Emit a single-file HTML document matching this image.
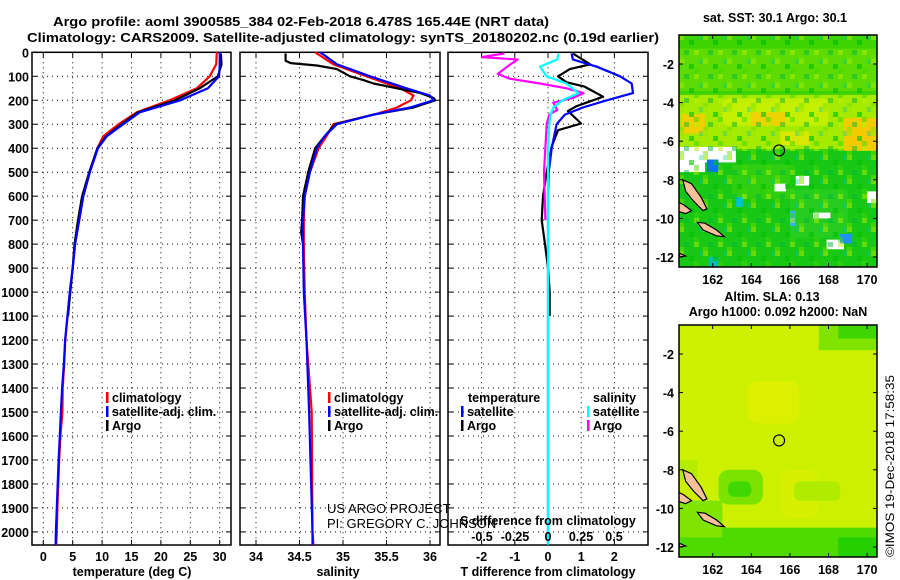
<!DOCTYPE html>
<html><head><meta charset="utf-8"><style>
html,body{margin:0;padding:0;background:#fff}
svg{display:block}
text{font-family:"Liberation Sans",sans-serif;fill:#000}
.b{font-weight:bold;font-size:12.5px}
</style></head><body>
<svg id="fig" width="900" height="580" viewBox="0 0 900 580">
<defs>
<pattern id="pix" x="679" y="35" width="24" height="24" patternUnits="userSpaceOnUse">
<rect x="0" y="0" width="5" height="5" fill="#9ee800" opacity="0.6"/>
<rect x="10" y="5" width="5" height="5" fill="#00c000" opacity="0.6"/>
<rect x="15" y="15" width="5" height="5" fill="#b8f000" opacity="0.5"/>
<rect x="5" y="15" width="5" height="5" fill="#00b840" opacity="0.5"/>
<rect x="20" y="0" width="4" height="5" fill="#00c8a0" opacity="0.35"/>
<rect x="0" y="20" width="5" height="4" fill="#70e000" opacity="0.5"/>
<rect x="15" y="10" width="5" height="5" fill="#40d800" opacity="0.5"/>
</pattern>
</defs>
<text class="b" x="53" y="26" textLength="496" lengthAdjust="spacingAndGlyphs" font-size="13">Argo profile: aoml 3900585_384 02-Feb-2018 6.478S 165.44E (NRT data)</text>
<text class="b" x="27" y="42" textLength="632" lengthAdjust="spacingAndGlyphs" font-size="13">Climatology: CARS2009. Satellite-adjusted climatology: synTS_20180202.nc (0.19d earlier)</text>
<g id="panels"></g>
<g id="maps"></g>
<text font-size="12" x="0" y="0" transform="translate(894,466) rotate(-90)" text-anchor="middle" textLength="182" lengthAdjust="spacingAndGlyphs">©IMOS 19-Dec-2018 17:58:35</text>
</svg>
<script>
// ---------- data ----------
const tDepth=[0,50,100,150,200,250,300,350,400,500,600,700,800,900,1000,1200,1300,1400,1500,1600,1700,1800,1900,2000,2054];
const tClim=[29.5,29.4,28.3,26.1,21.5,15.9,12.8,10.2,9.2,7.9,6.8,6.1,5.4,5.0,4.5,3.75,3.55,3.3,3.25,2.9,2.7,2.55,2.4,2.3,2.2];
const tSat=[30.0,30.0,29.9,28.0,23.3,16.4,13.6,10.8,9.3,7.9,6.8,6.1,5.4,5.0,4.5,3.7,3.5,3.2,3.0,2.8,2.6,2.45,2.3,2.15,2.1];
const aDepth=[5,50,100,150,200,250,300,350,400,500,600,700,800,900,1000,1100];
const tArgo=[30.2,30.3,29.7,26.6,22.4,16.1,13.3,10.7,9.2,7.8,6.6,5.9,5.3,5.0,4.6,4.2];
const sDepth=[0,50,100,150,180,200,230,260,300,350,400,500,600,700,800,1000,1200,1500,2000,2054];
const sClim=[34.68,34.89,35.27,35.66,35.81,35.78,35.62,35.36,34.89,34.81,34.72,34.62,34.56,34.55,34.55,34.56,34.58,34.64,34.65,34.66];
const sSat=[34.74,34.93,35.31,35.73,36.0,36.04,35.77,35.35,34.93,34.79,34.70,34.62,34.56,34.54,34.54,34.55,34.58,34.61,34.65,34.65];
const saDepth=[5,35,45,55,70,100,115,130,150,170,190,200,230,260,300,350,400,500,600,700,750,800];
const sArgo=[34.34,34.34,34.40,34.70,34.93,35.08,35.23,35.35,35.62,35.89,36.04,36.06,35.81,35.35,34.91,34.79,34.68,34.60,34.54,34.53,34.52,34.54];
const dDepth=[5,30,60,100,130,170,200,230,260,300,400,500,600,800,1000,1500,2054];
const dTSat=[0.71,0.75,1.47,2.17,2.52,2.56,1.77,1.05,0.51,0.26,0.11,0.02,0,0,0,0,0];
const dadDepth=[5,50,70,100,125,143,185,225,245,297,325,393,500,600,700,800,900,1000,1100];
const dTArgo=[0.75,1.27,0.66,0.3,0.56,1.1,1.66,0.85,0.6,1.0,0.3,0.11,-0.04,-0.15,-0.19,-0.09,0,0.05,0.05];
const dSSat=[0.08,0.07,-0.06,-0.01,0.14,0.23,0.11,0.04,0.02,0.01,0,0,0,0,0,0,0];
const dsaDepth=[5,20,30,60,90,110,130,150,170,190,210,240,260,300,500,700];
const dSArgo=[-0.33,-0.5,-0.23,-0.31,-0.38,-0.29,-0.06,0.14,0.27,0.19,0.04,0.07,0.01,-0.01,-0.03,-0.02];
const depthTicks=[0,100,200,300,400,500,600,700,800,900,1000,1100,1200,1300,1400,1500,1600,1700,1800,1900,2000];
const tTicks=[0,5,10,15,20,25,30];
const sTicks=[34,34.5,35,35.5,36];
const sTickLabels=["34","34.5","35","35.5","36"];
const dTTicks=[-2,-1,0,1,2];
const dSTicks=[-0.5,-0.25,0,0.25,0.5];
const dSTickLabels=["-0.5","-0.25","0","0.25","0.5"];
const lonTicks=[162,164,166,168,170];
const latTicks=[-2,-4,-6,-8,-10,-12];
const argoLon=165.44, argoLat=-6.478;

// ---------- scales ----------
const Y=d=>52.3+d*0.2398;
const XT=v=>43.3+v*5.88;
const XS=v=>256+(v-34)*87;
const XD=v=>548+v*33.2;
const XDS=v=>548+v*132;
const NS="http://www.w3.org/2000/svg";
function mk(tag,attrs,parent){const e=document.createElementNS(NS,tag);for(const k in attrs)e.setAttribute(k,attrs[k]);parent.appendChild(e);return e;}
const P=document.getElementById('panels');

function frame(x0,x1,name){
  const r=mk('rect',{x:x0,y:Y(0),width:x1-x0,height:545-Y(0),fill:'none',stroke:'#000','stroke-width':1.5},P);
  
  
  depthTicks.forEach(d=>{
    if(d>0){const g=mk('line',{x1:x0,x2:x1,y1:Y(d),y2:Y(d),stroke:'#000','stroke-width':1,'stroke-dasharray':'1,4'},P);
    
    }
    mk('line',{x1:x0,x2:x0+5,y1:Y(d),y2:Y(d),stroke:'#000'},P);
    mk('line',{x1:x1-5,x2:x1,y1:Y(d),y2:Y(d),stroke:'#000'},P);
  });
}
function vgrid(xs,name){xs.forEach(x=>{
  const g=mk('line',{x1:x,x2:x,y1:Y(0),y2:545,stroke:'#000','stroke-width':1,'stroke-dasharray':'1,4'},P);
  
  
  mk('line',{x1:x,x2:x,y1:Y(0),y2:Y(0)+5,stroke:'#000'},P);
  mk('line',{x1:x,x2:x,y1:540,y2:545,stroke:'#000'},P);
});}
function line(ds,vs,sx,color,name,w){
  const pts=ds.map((d,i)=>sx(vs[i]).toFixed(1)+','+Y(d).toFixed(1)).join(' ');
  const l=mk('polyline',{points:pts,fill:'none',stroke:color,'stroke-width':w||2.2,'stroke-linejoin':'round'},P);
  
  
}
function txt(x,y,s,name,opt){
  const t=mk('text',Object.assign({x:x,y:y,class:'b'},opt||{}),P);t.textContent=s;
  
  
  return t;
}
function legend(x,y,color,label,name){
  mk('rect',{x:x,y:y-10,width:2.5,height:11,fill:color},P);
  txt(x+6,y,label,name);
}

depthTicks.forEach(d=>txt(29,Y(d)+5,String(d),'depth-tick-label',{'text-anchor':'end'}));

// panel 1
frame(32,231,'temperature-panel');
vgrid(tTicks.map(XT),'temperature');
line(tDepth,tClim,XT,'#ff0000','temp-climatology-line');
line(aDepth,tArgo,XT,'#000000','temp-argo-line');
line(tDepth,tSat,XT,'#0000ff','temp-satellite-line');
tTicks.forEach(v=>txt(XT(v),561,String(v),'temperature-tick-label',{'text-anchor':'middle'}));
txt(132,576,'temperature (deg C)','temperature-axis-title',{'text-anchor':'middle'});
legend(106,402,'#ff0000','climatology','temp-legend-climatology');
legend(106,416,'#0000ff','satellite-adj. clim.','temp-legend-satellite');
legend(106,430,'#000000','Argo','temp-legend-argo');

// panel 2
frame(240,440,'salinity-panel');
vgrid(sTicks.map(XS),'salinity');
line(sDepth,sClim,XS,'#ff0000','sal-climatology-line');
line(saDepth,sArgo,XS,'#000000','sal-argo-line');
line(sDepth,sSat,XS,'#0000ff','sal-satellite-line');
sTicks.forEach((v,i)=>txt(XS(v),561,sTickLabels[i],'salinity-tick-label',{'text-anchor':'middle'}));
txt(338,576,'salinity','salinity-axis-title',{'text-anchor':'middle'});
legend(328,402,'#ff0000','climatology','sal-legend-climatology');
legend(328,416,'#0000ff','satellite-adj. clim.','sal-legend-satellite');
legend(328,430,'#000000','Argo','sal-legend-argo');

// panel 3
frame(448,648,'difference-panel');
vgrid(dTTicks.map(XD),'difference');
line(dadDepth,dTArgo,XD,'#000000','dT-argo-line');
line(dDepth,dTSat,XD,'#0000ff','dT-satellite-line');
line(dsaDepth,dSArgo,XDS,'#ff00ff','dS-argo-line');
line(dDepth,dSSat,XDS,'#00ffff','dS-satellite-line');
dTTicks.forEach(v=>txt(XD(v),561,String(v),'dT-tick-label',{'text-anchor':'middle'}));
dSTicks.forEach((v,i)=>txt(XDS(v),541,dSTickLabels[i],'dS-tick-label',{'text-anchor':'middle'}));
txt(548,576,'T difference from climatology','dT-axis-title',{'text-anchor':'middle'});
txt(548,525,'S difference from climatology','dS-axis-title',{'text-anchor':'middle'});
txt(468,402,'temperature','diff-legend-temperature-heading');
txt(593,402,'salinity','diff-legend-salinity-heading');
legend(461,416,'#0000ff','satellite','diff-legend-t-satellite');
legend(461,430,'#000000','Argo','diff-legend-t-argo');
legend(587,416,'#00ffff','satellite','diff-legend-s-satellite');
legend(587,430,'#ff00ff','Argo','diff-legend-s-argo');
txt(327,513,'US ARGO PROJECT','credit-project',{class:'',style:'font-size:13px'});
txt(327,528,'PI: GREGORY C. JOHNSON','credit-pi',{class:'',style:'font-size:13px'});

// ---------- maps ----------
const M=document.getElementById('maps');
const LX=lon=>712.7+(lon-162)*19.3;
function drawMap(top,name,base,patches,titleLines,texture){
  const LY=lat=>top+29+(-2-lat)*19.3;
  const g=mk('g',{},M);
  
  
  const cp='clip-'+name;
  const cl=mk('clipPath',{id:cp},g);mk('rect',{x:679,y:top,width:198,height:232},cl);
  const inner=mk('g',{'clip-path':'url(#'+cp+')'},g);
  mk('rect',{x:679,y:top,width:198,height:232,fill:base},inner);
  patches.forEach(p=>{
    const r=mk('rect',{x:LX(p[0]),y:LY(p[3]),width:LX(p[1])-LX(p[0]),height:LY(p[2])-LY(p[3]),fill:p[4]},inner);
    if(p[5])r.setAttribute('rx',p[5]);
  });
  if(texture)mk('rect',{x:679,y:top,width:198,height:232,fill:'url(#pix)'},inner);
  const isl=[[[160.45,-8.0],[160.9,-8.2],[161.4,-8.9],[161.7,-9.5],[161.5,-9.6],[161.0,-9.1],[160.6,-8.6]],
             [[161.2,-10.2],[161.6,-10.25],[162.2,-10.6],[162.6,-10.95],[162.2,-10.9],[161.5,-10.6]],
             [[160.1,-9.1],[160.5,-9.3],[160.9,-9.6],[160.6,-9.75],[160.1,-9.6]],
             [[160.25,-11.8],[160.6,-11.95],[160.3,-12.0]]];
  isl.forEach(poly=>{
    const q=mk('polygon',{points:poly.map(p=>LX(p[0]).toFixed(1)+','+LY(p[1]).toFixed(1)).join(' '),fill:'#f5c09a',stroke:'#000','stroke-width':1.2},inner);
    
    
  });
  const c=mk('circle',{cx:LX(argoLon),cy:LY(argoLat),r:5.5,fill:'none',stroke:'#000','stroke-width':1.2},g);
  
  
  mk('rect',{x:679,y:top,width:198,height:232,fill:'none',stroke:'#000','stroke-width':1.5},g);
  lonTicks.forEach(l=>{
    mk('line',{x1:LX(l),x2:LX(l),y1:top,y2:top+4,stroke:'#000'},g);
    mk('line',{x1:LX(l),x2:LX(l),y1:top+228,y2:top+232,stroke:'#000'},g);
    const t=mk('text',{x:LX(l),y:top+249,class:'b','text-anchor':'middle'},g);t.textContent=String(l);
    
    
  });
  latTicks.forEach(l=>{
    mk('line',{x1:679,x2:683,y1:LY(l),y2:LY(l),stroke:'#000'},g);
    mk('line',{x1:873,x2:877,y1:LY(l),y2:LY(l),stroke:'#000'},g);
    const t=mk('text',{x:674,y:LY(l)+5,class:'b','text-anchor':'end'},g);t.textContent=String(l);
    
    
  });
  titleLines.forEach(tl=>{
    const t=mk('text',{x:tl[0],y:tl[1],class:'b','text-anchor':'middle'},g);t.textContent=tl[2];
    
    
  });
}
drawMap(35,'sst-map','#3dd300',[
  [160.2,171,-3.4,-1.2,'#5cdc00'],
  [160.2,171,-6.4,-3.6,'#a6ea00'],
  [162.5,168,-5.2,-3.8,'#c4f000',6],
  [160.4,161.6,-5.6,-4.6,'#f0d000'],
  [164.0,165.8,-5.2,-4.5,'#ecd200'],
  [168.8,170.6,-6.6,-4.8,'#f2cc00'],
  [165.5,167,-6.2,-5.5,'#d8e800'],
  [160.2,171,-12.6,-6.5,'#18c814'],
  [163,166,-9,-7.2,'#2fce10'],
  [166,169,-11,-8.5,'#26cc20'],
  [160.2,163.2,-7.1,-6.3,'#ffffff'],
  [160.2,161.6,-7.6,-7.0,'#ffffff'],
  [161.7,162.3,-7.6,-6.95,'#1070ff'],
  [166.3,167.0,-8.3,-7.8,'#ffffff'],
  [167.2,168.1,-10.0,-9.7,'#ffffff'],
  [167.9,168.8,-11.6,-11.1,'#ffffff'],
  [170.0,170.6,-9.2,-8.6,'#ffffff'],
  [165.2,165.8,-8.6,-8.2,'#ffffff'],
  [166.0,166.3,-10.4,-9.6,'#30b0ff'],
  [163.2,163.6,-9.4,-8.9,'#00c0c8'],
  [161.8,162.3,-12.6,-12,'#00c0b0'],
  [168.6,169.2,-11.3,-10.8,'#2090ff']
],[[775,22,'sat. SST: 30.1  Argo: 30.1']],true);
drawMap(325,'sla-map','#cbf000',[
  [160.2,171,-12.6,-11.0,'#4edc00'],
  [160.2,162.5,-11.5,-9.6,'#7ee400'],
  [162.3,164.6,-9.8,-8.0,'#7ae400',10],
  [162.8,164.0,-9.4,-8.6,'#40d800',6],
  [167.5,171,-1.8,-0.4,'#80e400'],
  [168.5,171,-1.2,-0.4,'#40d400'],
  [163.8,166.5,-5.6,-3.4,'#dcf000',10],
  [165.5,167.5,-10.5,-8.0,'#d6f000',10],
  [168.5,171,-12.6,-11.5,'#24d000'],
  [166.2,168.6,-9.6,-8.6,'#b0ec00',6],
  [160.2,161.2,-8.5,-7.5,'#b4ec00']
],[[772,301,'Altim. SLA: 0.13'],[778,316,'Argo h1000: 0.092 h2000: NaN']],false);
</script>
</body></html>
